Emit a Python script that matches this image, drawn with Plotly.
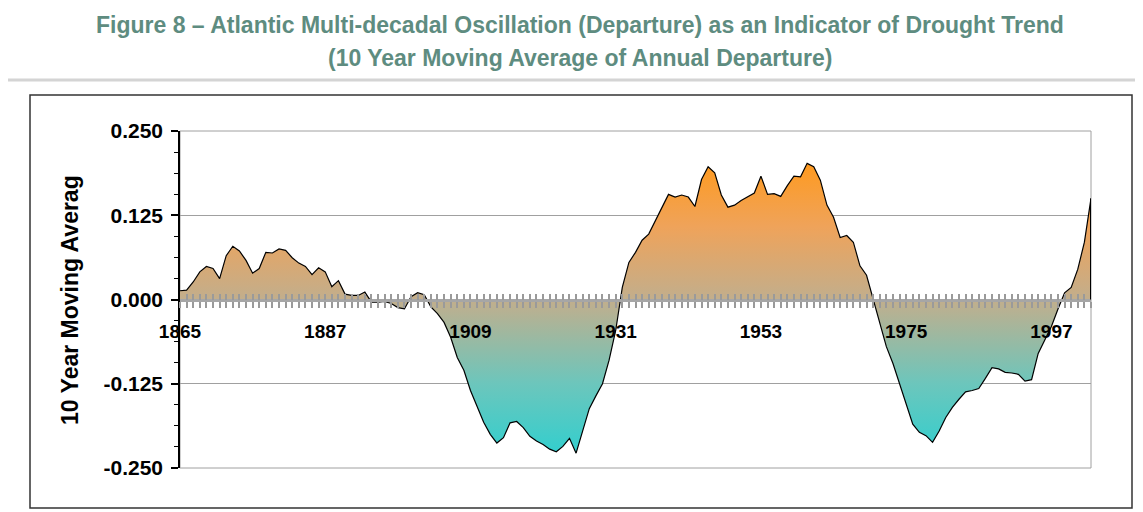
import plotly.graph_objects as go

# ---------------- data ----------------
years = list(range(1865, 2004))
departure = [
    0.013, 0.014, 0.026, 0.041, 0.049, 0.046, 0.031, 0.065, 0.079, 0.072,   # 1865-1874
    0.058, 0.039, 0.046, 0.070, 0.069, 0.075, 0.073, 0.062, 0.054, 0.049,   # 1875-1884
    0.037, 0.047, 0.041, 0.019, 0.028, 0.008, 0.006, 0.006, 0.011, -0.004,  # 1885-1894
    -0.004, -0.003, -0.006, -0.012, -0.014, 0.004, 0.010, 0.007, -0.011, -0.021,  # 1895-1904
    -0.034, -0.056, -0.086, -0.105, -0.135, -0.160, -0.182, -0.200, -0.213, -0.205,  # 1905-1914
    -0.183, -0.181, -0.190, -0.203, -0.210, -0.215, -0.222, -0.226, -0.218, -0.206,  # 1915-1924
    -0.228, -0.195, -0.162, -0.143, -0.125, -0.090, -0.046, 0.018, 0.055, 0.070,   # 1925-1934
    0.088, 0.097, 0.116, 0.135, 0.156, 0.152, 0.155, 0.152, 0.138, 0.178,   # 1935-1944
    0.197, 0.188, 0.155, 0.137, 0.140, 0.147, 0.152, 0.158, 0.183, 0.156,   # 1945-1954
    0.157, 0.153, 0.169, 0.183, 0.182, 0.202, 0.197, 0.177, 0.140, 0.122,   # 1955-1964
    0.092, 0.095, 0.085, 0.050, 0.036, 0.000, -0.035, -0.070, -0.095, -0.125,  # 1965-1974
    -0.155, -0.185, -0.197, -0.202, -0.212, -0.195, -0.175, -0.160, -0.148, -0.137,  # 1975-1984
    -0.135, -0.132, -0.117, -0.101, -0.103, -0.108, -0.109, -0.111, -0.121, -0.119,  # 1985-1994
    -0.080, -0.060, -0.040, -0.014, 0.010, 0.018, 0.045, 0.085, 0.150,              # 1995-2003
]
x_label_years = [1865, 1887, 1909, 1931, 1953, 1975, 1997]
y_tick_values = [-0.25, -0.125, 0.0, 0.125, 0.25]
y_tick_labels = ["-0.250", "-0.125", "0.000", "0.125", "0.250"]

title_line1 = "Figure 8 \u2013 Atlantic Multi-decadal Oscillation (Departure) as an Indicator of Drought Trend"
title_line2 = "(10 Year Moving Average of Annual Departure)"
y_title = "10 Year Moving Averag"

# ---------------- layout geometry (page pixels) ----------------
OFF = 8                      # page body margin before the figure
PAGE_W, PAGE_H = 1143, 512
W, H = PAGE_W - OFF, PAGE_H - OFF
L, R, T, B = 180, 1091, 131, 468   # plot area in page pixels
PW, PH = R - L, B - T


def px_x(p):
    return (p - L) / PW


def px_y(p):
    return (B - p) / PH


year_ticktext = [str(y) if y in x_label_years else "" for y in years]

fig = go.Figure()

fig.add_trace(go.Scatter(
    x=years, y=departure,
    mode="lines",
    line=dict(color="black", width=1.2),
    fill="tozeroy",
    fillgradient=dict(
        type="vertical",
        start=-0.235, stop=0.205,
        colorscale=[
            [0.0, "#2FCFCF"],
            [0.25, "#6CC6BC"],
            [0.534, "#C2AE8C"],
            [0.78, "#EFA35A"],
            [1.0, "#FF9A1E"],
        ],
    ),
    showlegend=False,
    hoverinfo="x+y",
))

# helper trace so the overlaid tick axis is drawn
fig.add_trace(go.Scatter(
    x=[years[0]], y=[0], xaxis="x2", yaxis="y",
    mode="markers", marker=dict(opacity=0),
    showlegend=False, hoverinfo="skip",
))

tick_font = dict(family="Liberation Sans, Arial, sans-serif", size=19, color="black", weight="bold")

fig.update_layout(
    width=W, height=H,
    margin=dict(l=L - OFF, r=PAGE_W - R, t=T - OFF, b=PAGE_H - B),
    paper_bgcolor="white",
    plot_bgcolor="white",
    xaxis=dict(
        range=[years[0], years[-1]],
        anchor="free", position=0.5,
        tickmode="array", tickvals=years, ticktext=year_ticktext,
        ticks="outside", ticklen=6, tickwidth=2, tickcolor="#9a9a9a",
        showline=True, linecolor="#a6a6a6", linewidth=3,
        showgrid=False, zeroline=False,
        tickfont=tick_font,
        ticklabelstandoff=8,
    ),
    xaxis2=dict(
        range=[years[0], years[-1]],
        overlaying="x", matches="x",
        anchor="free", position=0.5,
        tickmode="array", tickvals=years,
        ticks="inside", ticklen=6, tickwidth=2, tickcolor="#9a9a9a",
        showticklabels=False, showline=False, showgrid=False, zeroline=False,
    ),
    yaxis=dict(
        range=[-0.25, 0.25],
        tickmode="array", tickvals=y_tick_values, ticktext=y_tick_labels,
        ticks="outside", ticklen=7, tickwidth=1.5, tickcolor="black",
        showline=True, linecolor="black", linewidth=1.5,
        showgrid=True, gridcolor="#a0a0a0", gridwidth=1,
        zeroline=False,
        minor=dict(dtick=0.03125, tick0=0, ticks="outside", ticklen=4,
                   tickcolor="black", tickwidth=1, showgrid=False),
        tickfont=dict(family="Liberation Sans, Arial, sans-serif", size=21,
                      color="black", weight="bold"),
        ticklabelstandoff=4,
    ),
    font=dict(family="Liberation Sans, Arial, sans-serif"),
)

shapes = [
    # separator under the title (light gray)
    dict(type="line", xref="paper", yref="paper",
         x0=px_x(OFF), x1=px_x(PAGE_W), y0=px_y(80), y1=px_y(80),
         line=dict(color="#d4d4d4", width=3)),
    # outer chart frame (black)
    dict(type="rect", xref="paper", yref="paper",
         x0=px_x(30), x1=px_x(1132), y0=px_y(508), y1=px_y(95),
         line=dict(color="#333333", width=1.5), fillcolor="rgba(0,0,0,0)",
         layer="below"),
    # plot area border (gray)
    dict(type="rect", xref="paper", yref="paper",
         x0=0, x1=1, y0=0, y1=1,
         line=dict(color="#a0a0a0", width=1), fillcolor="rgba(0,0,0,0)",
         layer="below"),
    # closing edge of the area at the last year
    dict(type="line", xref="x", yref="y",
         x0=years[-1], x1=years[-1], y0=0, y1=departure[-1],
         line=dict(color="black", width=2)),
]
fig.update_layout(shapes=shapes)

title_font = dict(family="Liberation Sans, Arial, sans-serif",
                  size=23, color="#5e8c80", weight="bold")
fig.add_annotation(text=title_line1, xref="paper", yref="paper",
                   x=px_x(580), y=px_y(25), xanchor="center", yanchor="middle",
                   showarrow=False, font=title_font)
fig.add_annotation(text=title_line2, xref="paper", yref="paper",
                   x=px_x(580), y=px_y(58), xanchor="center", yanchor="middle",
                   showarrow=False, font=title_font)
fig.add_annotation(text=y_title, xref="paper", yref="paper",
                   x=px_x(70), y=px_y(300), xanchor="center", yanchor="middle",
                   textangle=-90, showarrow=False,
                   font=dict(family="Liberation Sans, Arial, sans-serif", size=23,
                             color="black", weight="bold"))

fig.write_html("out.html")
